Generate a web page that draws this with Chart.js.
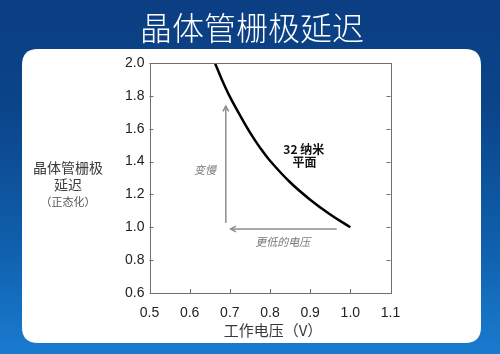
<!DOCTYPE html>
<html>
<head>
<meta charset="utf-8">
<script src="https://cdn.jsdelivr.net/npm/chart.js@4.4.1/dist/chart.umd.min.js"></script>
<style>
  html, body { margin: 0; padding: 0; background: #0b3f82; }
  #wrap { width: 500px; height: 354px; position: relative; }
</style>
</head>
<body>
<div id="wrap"><canvas id="c" width="500" height="354"></canvas></div>
<script>
// ---- data ----
const chartTitle = '晶体管栅极延迟';
const yTitleLines = ['晶体管栅极', '延迟'];
const yTitleNote = '（正态化）';
const xTitle = '工作电压（V）';

const voltage  = [0.663, 0.68, 0.70, 0.725, 0.75, 0.775, 0.80, 0.85, 0.90, 0.95, 1.0];
const delay32nm = [2.0, 1.90, 1.795, 1.683, 1.578, 1.485, 1.405, 1.274, 1.168, 1.078, 1.0];

const xTickValues = [0.5, 0.6, 0.7, 0.8, 0.9, 1.0, 1.1];
const yTickValues = [0.6, 0.8, 1.0, 1.2, 1.4, 1.6, 1.8, 2.0];

// annotation arrows (data coordinates)
const slowerArrowX = [0.69, 0.69];
const slowerArrowY = [1.026, 1.738];
const lowerVArrowX = [0.966, 0.702];
const lowerVArrowY = [0.99, 0.99];

// annotation labels (data coordinates)
const seriesLabel = ['32 纳米', '平面'];
const seriesLabelX = [0.884, 0.886];
const seriesLabelY = [1.476, 1.397];
const slowerLabel = '变慢';
const slowerLabelX = 0.638, slowerLabelY = 1.349;
const lowerVLabel = '更低的电压';
const lowerVLabelX = 0.832, lowerVLabelY = 0.91;

const CJK = '"Noto Sans CJK SC", "Liberation Sans", sans-serif';
const NUM = '"Liberation Sans", Arial, sans-serif';

function roundRect(ctx, x, y, w, h, r) {
  ctx.beginPath();
  ctx.moveTo(x + r, y);
  ctx.lineTo(x + w - r, y);
  ctx.quadraticCurveTo(x + w, y, x + w, y + r);
  ctx.lineTo(x + w, y + h - r);
  ctx.quadraticCurveTo(x + w, y + h, x + w - r, y + h);
  ctx.lineTo(x + r, y + h);
  ctx.quadraticCurveTo(x, y + h, x, y + h - r);
  ctx.lineTo(x, y + r);
  ctx.quadraticCurveTo(x, y, x + r, y);
  ctx.closePath();
}

const backgroundPlugin = {
  id: 'slideBackground',
  beforeDraw(chart) {
    const ctx = chart.ctx;
    const W = chart.width, H = chart.height;
    ctx.save();
    const g = ctx.createLinearGradient(0, 0, 0, H);
    g.addColorStop(0, '#0b3e82');
    g.addColorStop(0.3, '#0b4489');
    g.addColorStop(0.7, '#0f60ad');
    g.addColorStop(1, '#1a7bcf');
    ctx.fillStyle = g;
    ctx.fillRect(0, 0, W, H);
    ctx.fillStyle = '#ffffff';
    roundRect(ctx, 22, 49, 459, 294, 16);
    ctx.fill();
    // title
    ctx.fillStyle = '#ffffff';
    ctx.font = '300 32px ' + CJK;
    ctx.textAlign = 'center';
    ctx.textBaseline = 'middle';
    ctx.fillText(chartTitle, 252, 28);
    ctx.restore();
  }
};

function arrow(ctx, x1, y1, x2, y2) {
  ctx.beginPath();
  ctx.moveTo(x1, y1);
  ctx.lineTo(x2, y2);
  ctx.stroke();
  const a = Math.atan2(y2 - y1, x2 - x1);
  const L = 6, s = 0.5;
  ctx.beginPath();
  ctx.moveTo(x2 - L * Math.cos(a - s), y2 - L * Math.sin(a - s));
  ctx.lineTo(x2, y2);
  ctx.lineTo(x2 - L * Math.cos(a + s), y2 - L * Math.sin(a + s));
  ctx.stroke();
}

const framePlugin = {
  id: 'frameAndNotes',
  afterDatasetsDraw(chart) {
    const ctx = chart.ctx;
    const xs = chart.scales.x, ys = chart.scales.y;
    const a = chart.chartArea;
    ctx.save();
    // frame
    ctx.strokeStyle = '#6e6e6e';
    ctx.lineWidth = 1;
    ctx.strokeRect(Math.round(a.left) + 0.5, Math.round(a.top) + 0.5,
                   Math.round(a.right - a.left), Math.round(a.bottom - a.top));
    // inward ticks
    ctx.beginPath();
    yTickValues.forEach(v => {
      const y = Math.round(ys.getPixelForValue(v)) + 0.5;
      ctx.moveTo(a.left, y); ctx.lineTo(a.left + 4, y);
      ctx.moveTo(a.right, y); ctx.lineTo(a.right - 4, y);
    });
    xTickValues.forEach(v => {
      const x = Math.round(xs.getPixelForValue(v)) + 0.5;
      ctx.moveTo(x, a.bottom); ctx.lineTo(x, a.bottom - 4);
    });
    ctx.stroke();

    // arrows
    ctx.strokeStyle = '#8c8c8c';
    ctx.lineWidth = 1.5;
    arrow(ctx, xs.getPixelForValue(slowerArrowX[0]), ys.getPixelForValue(slowerArrowY[0]),
               xs.getPixelForValue(slowerArrowX[1]), ys.getPixelForValue(slowerArrowY[1]));
    arrow(ctx, xs.getPixelForValue(lowerVArrowX[0]), ys.getPixelForValue(lowerVArrowY[0]),
               xs.getPixelForValue(lowerVArrowX[1]), ys.getPixelForValue(lowerVArrowY[1]));

    // notes
    ctx.textAlign = 'center';
    ctx.textBaseline = 'middle';
    ctx.fillStyle = '#111111';
    ctx.font = 'bold 12px ' + CJK;
    seriesLabel.forEach((t, i) => {
      ctx.fillText(t, xs.getPixelForValue(seriesLabelX[i]), ys.getPixelForValue(seriesLabelY[i]));
    });
    ctx.fillStyle = '#7a7a7a';
    ctx.font = 'italic 11px ' + CJK;
    ctx.fillText(slowerLabel, xs.getPixelForValue(slowerLabelX), ys.getPixelForValue(slowerLabelY));
    ctx.fillText(lowerVLabel, xs.getPixelForValue(lowerVLabelX), ys.getPixelForValue(lowerVLabelY));

    // axis titles
    ctx.fillStyle = '#3a3a3a';
    ctx.font = '14px ' + CJK;
    ctx.fillText(yTitleLines[0], 68, 168);
    ctx.fillText(yTitleLines[1], 68, 185);
    ctx.fillStyle = '#555555';
    ctx.font = '11px ' + CJK;
    ctx.fillText(yTitleNote, 68, 202);
    ctx.fillStyle = '#3a3a3a';
    ctx.font = '15px ' + CJK;
    ctx.fillText(xTitle, (a.left + a.right) / 2 + 3, 330);
    ctx.restore();
  }
};

const points = voltage.map((v, i) => ({ x: v, y: delay32nm[i] }));

new Chart(document.getElementById('c'), {
  type: 'scatter',
  data: {
    datasets: [{
      label: '32 纳米 平面',
      data: points,
      showLine: true,
      borderColor: '#000000',
      borderWidth: 2.5,
      pointRadius: 0,
      tension: 0.4,
      fill: false
    }]
  },
  options: {
    responsive: false,
    animation: false,
    devicePixelRatio: 1,
    layout: { padding: { left: 0, right: 109.5, top: 63, bottom: 21 } },
    plugins: { legend: { display: false }, tooltip: { enabled: false }, title: { display: false } },
    scales: {
      x: {
        type: 'linear',
        min: 0.5, max: 1.1,
        afterFit(s) { s.height = 40; },
        afterBuildTicks(s) { s.ticks = xTickValues.map(v => ({ value: v })); },
        grid: { display: false, drawTicks: false },
        border: { display: false },
        ticks: {
          padding: 12,
          color: '#222222',
          font: { family: NUM, size: 14 },
          callback: v => v.toFixed(1)
        }
      },
      y: {
        type: 'linear',
        min: 0.6, max: 2.0,
        afterFit(s) { s.width = 149.5; },
        afterBuildTicks(s) { s.ticks = yTickValues.map(v => ({ value: v })); },
        grid: { display: false, drawTicks: false },
        border: { display: false },
        ticks: {
          padding: 5,
          color: '#222222',
          font: { family: NUM, size: 14 },
          callback: v => v.toFixed(1)
        }
      }
    }
  },
  plugins: [backgroundPlugin, framePlugin]
});
</script>
</body>
</html>
